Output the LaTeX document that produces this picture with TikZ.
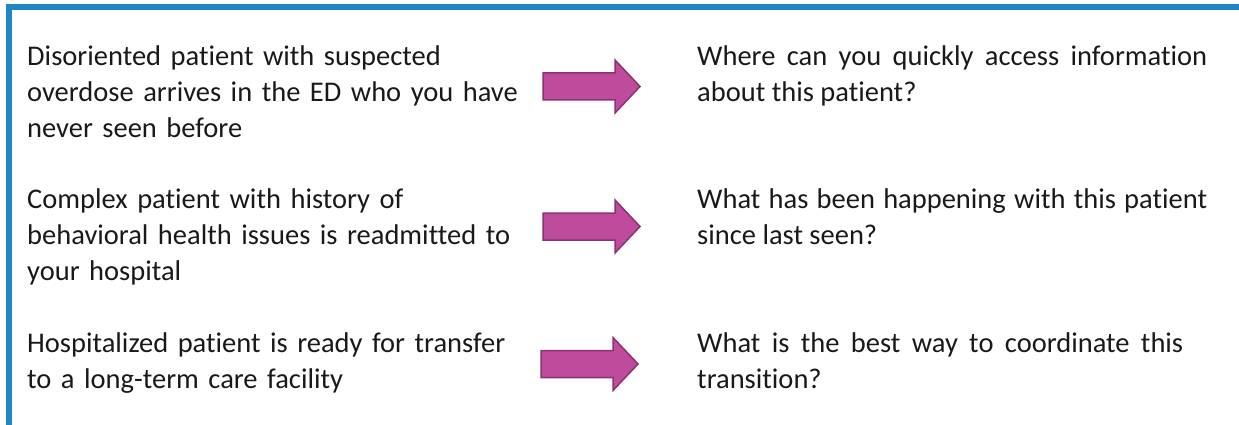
\documentclass[tikz,border=0pt]{standalone}
\usepackage{fontspec}
\setmainfont{Carlito}[Ligatures=NoCommon]
\definecolor{framebl}{HTML}{1E88C6}
\definecolor{arrfill}{HTML}{BE4B9B}
\definecolor{arrline}{HTML}{8C3273}
\tikzset{
  txt/.style={inner sep=0pt, anchor=base west, font=\fontsize{28.5pt}{36pt}\selectfont, text=black!90},
  lefttext/.style={txt, text width=530pt, align=left},
  righttext/.style={txt, align=justify},
  blockarrow/.style={fill=arrfill, draw=arrline, line width=1.5pt, line join=miter},
}
\newcommand{\myarrow}[3]{% name, left x, center y
  \draw[blockarrow] (#2,#3-13.5) -- (#2+72,#3-13.5) -- (#2+72,#3-26.5) -- (#2+97,#3)
    -- (#2+72,#3+26.5) -- (#2+72,#3+13.5) -- (#2,#3+13.5) -- cycle;
  \coordinate (#1) at (#2+48,#3);
}
\begin{document}
\begin{tikzpicture}[x=1pt,y=-1pt]
\useasboundingbox (0,0) rectangle (1239,425);
\fill[framebl] (6,4) rectangle (1239,10);
\fill[framebl] (6,4) rectangle (12,425);

\node[lefttext] (l1) at (27,66) {Disoriented patient with suspected\\overdose arrives in the ED who you have\\never seen before};
\node[lefttext] (l2) at (27,208) {Complex patient with history of\\behavioral health issues is readmitted to\\your hospital};
\node[lefttext] (l3) at (27,352) {Hospitalized patient is ready for transfer\\to a long-term care facility};

\node[righttext, text width=510pt] (r1) at (697,66) {Where can you quickly access information\linebreak about this patient?};
\node[righttext, text width=510pt] (r2) at (697,208) {What has been happening with this patient\linebreak since last seen?};
\node[righttext, text width=486pt] (r3) at (697,352) {What is the best way to coordinate this\linebreak transition?};

\myarrow{a1}{543}{86.5}
\myarrow{a2}{543}{226.5}
\myarrow{a3}{541}{364}
\end{tikzpicture}
\end{document}
